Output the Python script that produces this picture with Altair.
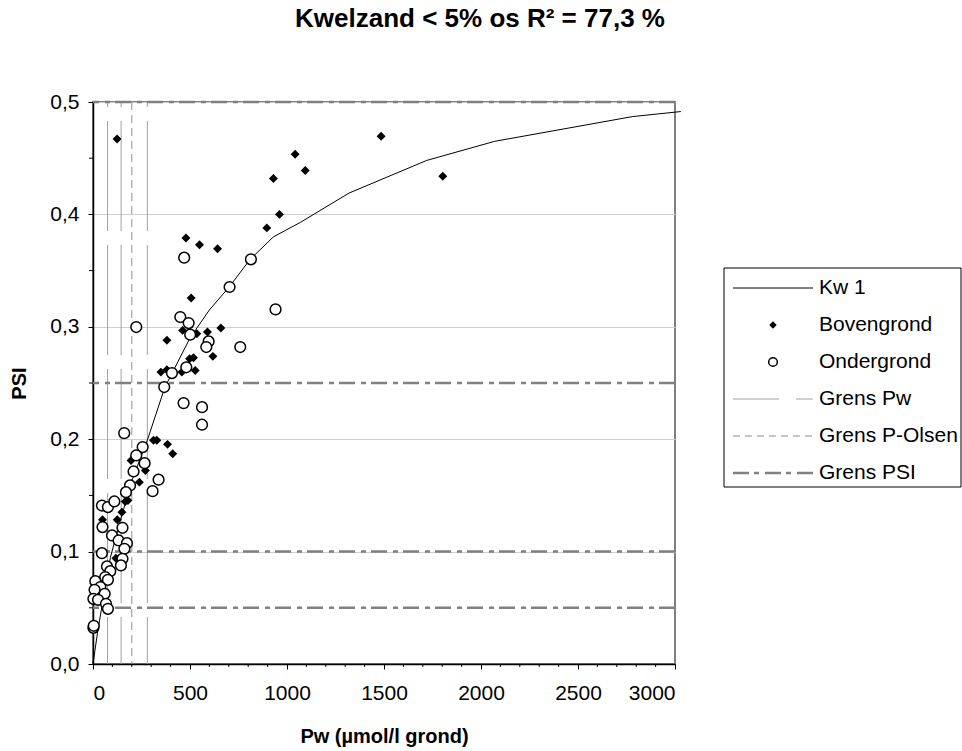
import altair as alt
import pandas as pd

# ---------------- data ----------------
bov_pw = [124, 1485, 1803, 930, 1042, 1094, 896, 961, 479, 549, 642, 506, 381, 462, 535,
          590, 659, 618, 498, 518, 527, 350, 381, 458, 312, 329, 384, 411, 196, 270,
          239, 166, 180, 149, 49, 125, 118, 8]
bov_psi = [0.467, 0.4695, 0.434, 0.432, 0.4535, 0.439, 0.388, 0.400, 0.379, 0.373, 0.3695,
           0.3256, 0.288, 0.2968, 0.2939, 0.2953, 0.2989, 0.2737, 0.2716, 0.2725, 0.2612,
           0.2597, 0.2618, 0.2597, 0.199, 0.199, 0.1954, 0.187, 0.1811, 0.1722, 0.1618,
           0.1446, 0.1455, 0.1351, 0.1283, 0.1283, 0.094, 0.035]

ond_pw = [470, 814, 704, 941, 223, 450, 493, 501, 596, 584, 759, 481, 407, 367, 467, 562,
          562, 338, 307, 161, 256, 223, 266, 209, 191, 170, 46, 77, 110, 49, 152, 98, 132,
          175, 162, 46, 152, 144, 72, 89, 63, 77, 12, 38, 8, 60, 2, 26, 67, 77, 2, 4]
ond_psi = [0.3615, 0.36, 0.3354, 0.3155, 0.2998, 0.3087, 0.3033, 0.293, 0.287, 0.282, 0.282,
           0.264, 0.2588, 0.2464, 0.2321, 0.2285, 0.2129, 0.164, 0.1538, 0.2054, 0.193,
           0.1856, 0.1787, 0.1713, 0.1589, 0.1529, 0.141, 0.1396, 0.1446, 0.1218, 0.1212,
           0.1144, 0.1099, 0.1075, 0.1025, 0.0986, 0.0936, 0.0877, 0.0868, 0.0826, 0.0773,
           0.0749, 0.0737, 0.0684, 0.066, 0.0625, 0.058, 0.0571, 0.0536, 0.0491, 0.0322, 0.034]

kw_pw = [0, 10, 25, 50, 90, 140, 200, 280, 370, 500, 600, 700, 810, 930, 1070, 1320,
         1720, 2070, 2780, 3030]
kw_psi = [0.0, 0.012, 0.03, 0.055, 0.095, 0.127, 0.163, 0.199, 0.246, 0.29, 0.315, 0.335,
          0.36, 0.38, 0.393, 0.419, 0.448, 0.465, 0.487, 0.4915]

grens_pw = [75, 145, 280]
grens_polsen = [200]
grens_psi = [0.05, 0.1, 0.25, 0.5]

x_major = [0, 500, 1000, 1500, 2000, 2500, 3000]
x_minor = [v for v in range(100, 3000, 100) if v % 500 != 0]
y_major = [0.0, 0.1, 0.2, 0.3, 0.4, 0.5]
y_minor = [0.05, 0.15, 0.25, 0.35, 0.45]

legend_labels = ["Kw 1", "Bovengrond", "Ondergrond", "Grens Pw", "Grens P-Olsen", "Grens PSI"]

title_text = "Kwelzand < 5% os R² = 77,3 %"
x_title = "Pw (µmol/l grond)"
y_title = "PSI"

# ---------------- layout ----------------
W, H = 582, 562
FONT = "Liberation Sans"
GRAY = "#808080"

xs = alt.Scale(domain=[0, 3000], nice=False, zero=False)
ys = alt.Scale(domain=[0, 0.5], nice=False, zero=False)

x_axis = alt.Axis(values=x_major, format="d", grid=False, tickSize=5, labelPadding=13,
                  titleX=W / 2, titleY=78, titleBaseline="alphabetic")
y_axis = alt.Axis(values=y_major, grid=True, tickSize=5, labelPadding=9,
                  labelExpr="replace(format(datum.value, '.1f'), '.', ',')",
                  titleX=-68, titleY=H / 2, titleBaseline="alphabetic", titleAngle=-90)


def X(field):
    return alt.X(field, type="quantitative", scale=xs, axis=x_axis, title=x_title)


def Y(field):
    return alt.Y(field, type="quantitative", scale=ys, axis=y_axis, title=y_title)


bov = pd.DataFrame({"pw": bov_pw, "psi": bov_psi})
ond = pd.DataFrame({"pw": ond_pw, "psi": ond_psi})
kw = pd.DataFrame({"pw": kw_pw, "psi": kw_psi})

layers = []

# reference lines
layers.append(alt.Chart(pd.DataFrame({"pw": grens_pw})).mark_rule(
    color="#a0a0a0", strokeWidth=1, strokeDash=[110, 14], strokeDashOffset=105).encode(x=X("pw")))
layers.append(alt.Chart(pd.DataFrame({"pw": grens_polsen})).mark_rule(
    color="#909090", strokeWidth=1, strokeDash=[8, 5]).encode(x=X("pw")))
layers.append(alt.Chart(pd.DataFrame({"psi": grens_psi})).mark_rule(
    color=GRAY, strokeWidth=2.5, strokeDash=[16, 5, 5, 6]).encode(y=Y("psi")))

# minor ticks
layers.append(alt.Chart(pd.DataFrame({"pw": x_minor})).mark_rule(
    color="black", strokeWidth=1).encode(x=X("pw"), y=alt.value(H), y2=alt.value(H + 3)))
layers.append(alt.Chart(pd.DataFrame({"psi": y_minor})).mark_rule(
    color="black", strokeWidth=1).encode(y=Y("psi"), x=alt.value(-4), x2=alt.value(0)))

# fitted curve
layers.append(alt.Chart(kw).mark_line(color="black", strokeWidth=1, clip=False).encode(
    x=X("pw"), y=Y("psi"), order="pw:Q"))

# points
layers.append(alt.Chart(bov).mark_point(shape="diamond", filled=True, color="black",
                                        size=80, opacity=1).encode(x=X("pw"), y=Y("psi")))
layers.append(alt.Chart(ond).mark_point(shape="circle", filled=True, fill="white",
                                        stroke="black", strokeWidth=1.5, size=115,
                                        opacity=1).encode(x=X("pw"), y=Y("psi")))

# ---------------- legend (drawn beside the plot) ----------------
one = pd.DataFrame({"k": [0]})
LX0, LX1, LY0, LY1 = 631, 868, 166, 385
SX0, SX1, SXC, TX = 640, 720, 680, 726
rows = [186 + 37 * i for i in range(len(legend_labels))]

layers.append(alt.Chart(one).mark_rect(fill="white", stroke="black", strokeWidth=1).encode(
    x=alt.value(LX0), x2=alt.value(LX1), y=alt.value(LY0), y2=alt.value(LY1)))
layers.append(alt.Chart(one).mark_rule(color="black", strokeWidth=1).encode(
    x=alt.value(SX0), x2=alt.value(SX1), y=alt.value(rows[0])))
layers.append(alt.Chart(one).mark_point(shape="diamond", filled=True, color="black",
                                        size=55, opacity=1).encode(
    x=alt.value(SXC), y=alt.value(rows[1])))
layers.append(alt.Chart(one).mark_point(shape="circle", filled=True, fill="white",
                                        stroke="black", strokeWidth=1.5, size=75,
                                        opacity=1).encode(
    x=alt.value(SXC), y=alt.value(rows[2])))
layers.append(alt.Chart(one).mark_rule(color="#a0a0a0", strokeWidth=1, strokeDash=[46, 17]).encode(
    x=alt.value(SX0), x2=alt.value(SX1), y=alt.value(rows[3])))
layers.append(alt.Chart(one).mark_rule(color="#909090", strokeWidth=1, strokeDash=[7, 5]).encode(
    x=alt.value(SX0), x2=alt.value(SX1), y=alt.value(rows[4])))
layers.append(alt.Chart(one).mark_rule(color=GRAY, strokeWidth=2.5, strokeDash=[16, 5, 5, 6]).encode(
    x=alt.value(SX0), x2=alt.value(SX1), y=alt.value(rows[5])))
for lab, ry in zip(legend_labels, rows):
    layers.append(alt.Chart(pd.DataFrame({"label": [lab]})).mark_text(
        align="left", baseline="middle", font=FONT, fontSize=21, color="black").encode(
        x=alt.value(TX), y=alt.value(ry), text="label:N"))

chart = alt.layer(*layers).properties(
    width=W, height=H,
    autosize=alt.AutoSizeParams(type="none"),
    padding={"left": 93, "top": 102, "right": 287, "bottom": 87},
    title=alt.TitleParams(text=title_text, font=FONT, fontSize=26, fontWeight="bold",
                          anchor="middle", frame="group", dx=96, offset=38,
                          baseline="alphabetic", color="black"),
).configure_view(stroke=GRAY, strokeWidth=2).configure_axis(
    labelFont=FONT, labelFontSize=21, labelColor="black",
    titleFont=FONT, titleFontSize=20, titleFontWeight="bold", titleColor="black",
    domainColor="black", domainWidth=1.5, tickColor="black", tickWidth=1,
    gridColor="#cfcfcf", gridWidth=1,
)

chart.save("out.html", embed_options={"renderer": "svg", "actions": False})
